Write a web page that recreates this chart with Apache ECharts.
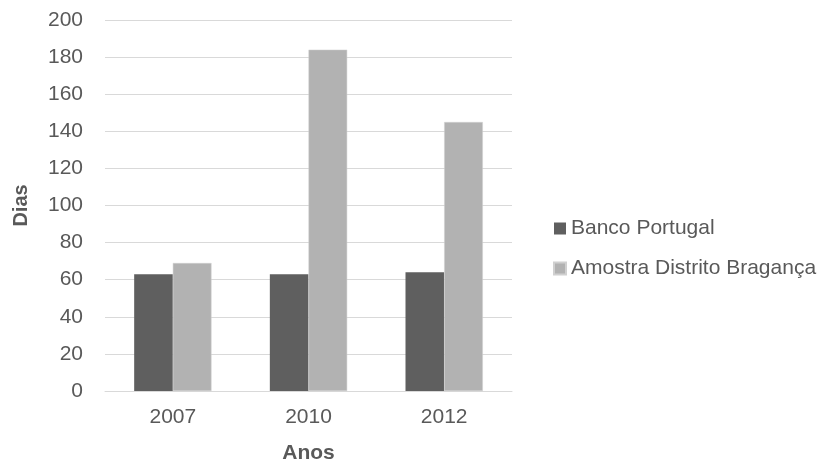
<!DOCTYPE html>
<html>
<head>
<meta charset="utf-8">
<script src="https://cdn.jsdelivr.net/npm/echarts@6/dist/echarts.min.js"></script>
<style>
  html, body { margin: 0; padding: 0; background: #fff; }
  #chart { width: 819px; height: 466px; }
</style>
</head>
<body>
<div id="chart"></div>
<script>
// Prazo médio (dias) por ano
const anos = ['2007', '2010', '2012'];
const bancoPortugal = [63, 63, 64];
const amostraBraganca = [69, 184, 145];
const yTicks = { min: 0, max: 200, interval: 20 };

const textColor = '#595959';
const font = 'Liberation Sans, Arial, sans-serif';
const fontSize = 21;

const chart = echarts.init(document.getElementById('chart'));
chart.setOption({
  animation: false,
  textStyle: { fontFamily: font, color: textColor },
  grid: {
    left: 105, right: 307, top: 20, bottom: 75,
    containLabel: false,
    outerBoundsMode: 'none'
  },
  legend: {
    orient: 'vertical',
    left: 553,
    top: 218,
    padding: 0,
    itemWidth: 12,
    itemHeight: 12,
    itemGap: 19,
    icon: 'rect',
    textStyle: { fontFamily: font, fontSize: fontSize, color: textColor },
    data: ['Banco Portugal', 'Amostra Distrito Bragança']
  },
  xAxis: {
    type: 'category',
    data: anos,
    name: 'Anos',
    nameLocation: 'middle',
    nameGap: 52,
    nameTextStyle: { fontFamily: font, fontSize: fontSize, fontWeight: 'bold', color: textColor },
    axisLine: { lineStyle: { color: '#d9d9d9', width: 1 } },
    axisTick: { show: false },
    axisLabel: { fontFamily: font, fontSize: fontSize, color: textColor, margin: 16 }
  },
  yAxis: {
    type: 'value',
    min: yTicks.min,
    max: yTicks.max,
    interval: yTicks.interval,
    name: 'Dias',
    nameLocation: 'middle',
    nameGap: 74,
    nameTextStyle: { fontFamily: font, fontSize: 20, fontWeight: 'bold', color: textColor },
    axisLine: { show: false },
    axisTick: { show: false },
    axisLabel: { fontFamily: font, fontSize: fontSize, color: textColor, margin: 22 },
    splitLine: { lineStyle: { color: '#d9d9d9', width: 1 } }
  },
  series: [
    {
      name: 'Banco Portugal',
      type: 'bar',
      data: bancoPortugal,
      barGap: '0%',
      barCategoryGap: '43%',
      itemStyle: { color: '#5f5f5f' }
    },
    {
      name: 'Amostra Distrito Bragança',
      type: 'bar',
      data: amostraBraganca,
      barGap: '0%',
      barCategoryGap: '43%',
      itemStyle: { color: '#b2b2b2', borderColor: '#d0d0d0', borderWidth: 0.5 }
    }
  ]
});
</script>
</body>
</html>
